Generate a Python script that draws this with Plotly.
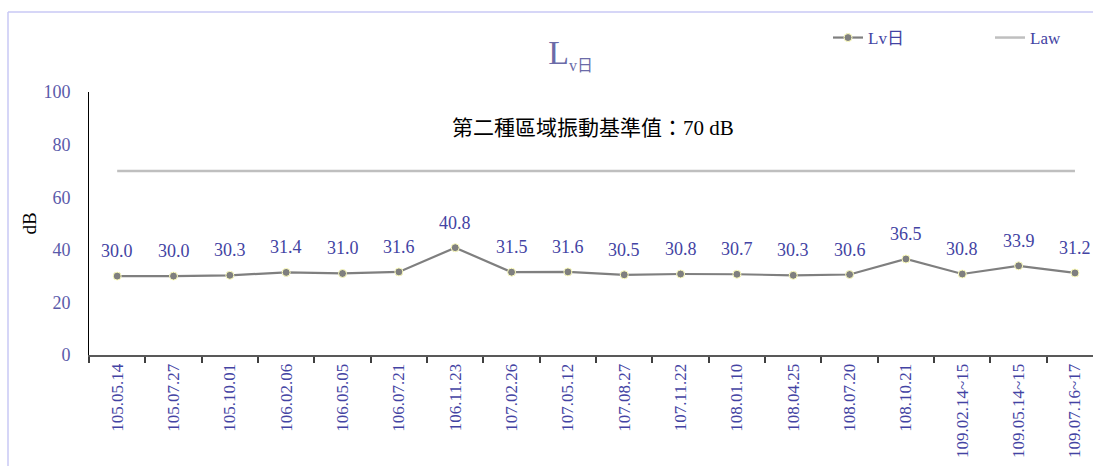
import plotly.graph_objects as go

categories = ["105.05.14", "105.07.27", "105.10.01", "106.02.06", "106.05.05", "106.07.21",
              "106.11.23", "107.02.26", "107.05.12", "107.08.27", "107.11.22", "108.01.10",
              "108.04.25", "108.07.20", "108.10.21", "109.02.14~15", "109.05.14~15", "109.07.16~17"]
lv_day = [30.0, 30.0, 30.3, 31.4, 31.0, 31.6, 40.8, 31.5, 31.6, 30.5, 30.8, 30.7,
          30.3, 30.6, 36.5, 30.8, 33.9, 31.2]
law_value = 70
law = [law_value] * len(categories)

W, H = 1093, 466
ML, MR, MT, MB = 89, 0, 92, 111
pw, ph = W - ML - MR, H - MT - MB

SERIF = "Liberation Serif, 'Noto Sans CJK TC', serif"
BLUE = "#4343a3"

fig = go.Figure()
fig.add_trace(go.Scatter(
    x=categories, y=lv_day, name="Lv日", mode="lines+markers",
    line=dict(color="#7f7f7f", width=2.2),
    marker=dict(symbol="circle", size=8, color="#7f7f7f",
                line=dict(color="#ffffbf", width=1)),
    legend="legend",
))
fig.add_trace(go.Scatter(
    x=categories, y=law, name="Law", mode="lines",
    line=dict(color="#bfbfbf", width=2.5), legend="legend2",
))

def px_x(p):
    return (p - ML) / pw

def px_y(p):
    return (H - MB - p) / ph

leg_common = dict(orientation="h", xref="container", yref="container",
                  xanchor="left", yanchor="middle", bgcolor="rgba(0,0,0,0)",
                  font=dict(family=SERIF, size=17, color=BLUE))

label_annotations = [
    dict(x=c, y=v, xref="x", yref="y", text=f"{v:.1f}", showarrow=False,
         yanchor="bottom", yshift=13, font=dict(family=SERIF, size=18, color=BLUE))
    for c, v in zip(categories, lv_day)
]

fig.update_layout(
    width=W, height=H,
    margin=dict(l=ML, r=MR, t=MT, b=MB, autoexpand=False),
    paper_bgcolor="white", plot_bgcolor="white",
    title=dict(text="L<sub><span style='font-size:16px'>v日</span></sub>",
               x=0.522, xref="container", xanchor="center",
               y=1 - 52 / H, yref="container", yanchor="middle",
               font=dict(family=SERIF, size=34, color="#6b6ba8")),
    showlegend=True,
    legend=dict(x=(828) / W, y=1 - 38 / H, **leg_common),
    legend2=dict(x=(990) / W, y=1 - 38 / H, **leg_common),
    xaxis=dict(type="category", range=[-0.5, 17.32], showgrid=False,
               showline=True, linecolor="#595959", linewidth=2,
               ticks="outside", tickson="boundaries", ticklen=6, tickcolor="#404040", tickwidth=1.5,
               tickangle=-90, tickfont=dict(family=SERIF, size=17, color=BLUE)),
    yaxis=dict(range=[0, 100], dtick=20, showgrid=False, zeroline=False,
               showline=True, linecolor="black", linewidth=1, ticks="",
               ticklabelstandoff=14,
               tickfont=dict(family=SERIF, size=18, color="#5a5aaa"),
               title=dict(text="dB", font=dict(family=SERIF, size=19, color="black"), standoff=1)),
    annotations=[dict(text="第二種區域振動基準值：70 dB", xref="paper", yref="paper",
                      x=px_x(593), y=px_y(128), showarrow=False, xanchor="center", yanchor="middle",
                      font=dict(family=SERIF, size=21, color="black"))] + label_annotations,
    shapes=[
        dict(type="line", xref="paper", yref="paper", x0=px_x(8), x1=px_x(W + 5),
             y0=px_y(12), y1=px_y(12), line=dict(color="#c8c8f5", width=1.5)),
        dict(type="line", xref="paper", yref="paper", x0=px_x(8), x1=px_x(8),
             y0=px_y(12), y1=px_y(H + 5), line=dict(color="#c8c8f5", width=1.5)),
    ],
)

fig.write_html("out.html", config={"displayModeBar": False},
               post_script="document.body.style.margin='0';document.body.style.overflow='hidden';")
